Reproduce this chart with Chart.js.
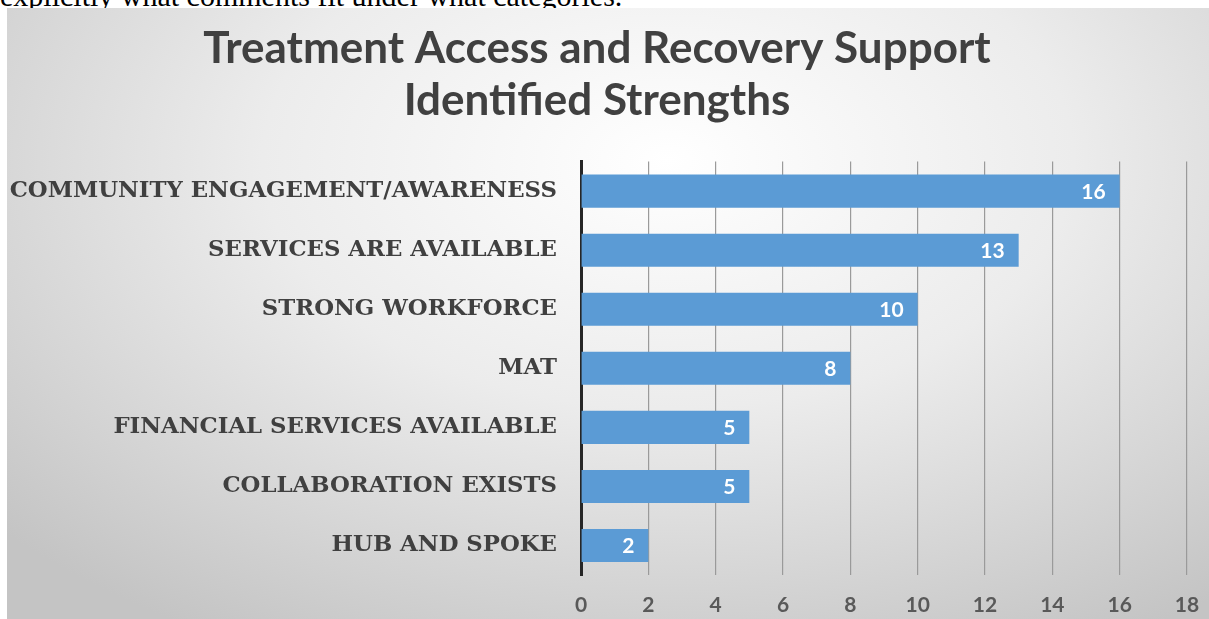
<!DOCTYPE html>
<html>
<head>
<meta charset="utf-8">
<script src="https://cdn.jsdelivr.net/npm/chart.js@4.4.1/dist/chart.umd.min.js"></script>
<style>
  html, body { margin: 0; padding: 0; background: #fff; overflow: hidden; }
  body { width: 1209px; height: 619px; position: relative; }
  #caption {
    position: absolute; left: 0; top: -21px;
    font-family: "Liberation Serif", "Times New Roman", serif;
    font-size: 30px; color: #000; white-space: nowrap;
  }
  #wrap {
    position: absolute; left: 7px; top: 8px; width: 1202px; height: 611px;
    background: radial-gradient(ellipse 75% 90% at 55% 25%, #ffffff 0%, #ececec 45%, #c4c4c4 100%);
  }
</style>
</head>
<body>
<div id="caption">explicitly what comments fit under what categories.</div>
<div id="wrap"><canvas id="chart" width="1202" height="611"></canvas></div>
<script>
// ----------------------
// Données
// ----------------------
const categories = [
  "COMMUNITY ENGAGEMENT/AWARENESS",
  "SERVICES ARE AVAILABLE",
  "STRONG WORKFORCE",
  "MAT",
  "FINANCIAL SERVICES AVAILABLE",
  "COLLABORATION EXISTS",
  "HUB AND SPOKE"
];
const counts = [16, 13, 10, 8, 5, 5, 2];
const titleLines = ["Treatment Access and Recovery Support", "Identified Strengths"];
const xTicks = [0, 2, 4, 6, 8, 10, 12, 14, 16, 18];

// étiquettes blanches en bout de barre
const barLabels = {
  id: "barLabels",
  afterDatasetsDraw(chart) {
    const ctx = chart.ctx;
    const meta = chart.getDatasetMeta(0);
    ctx.save();
    ctx.fillStyle = "#ffffff";
    ctx.font = "bold 21px Lato, 'Open Sans', sans-serif";
    ctx.textAlign = "right";
    ctx.textBaseline = "middle";
    meta.data.forEach((bar, i) => {
      ctx.fillText(String(counts[i]), bar.x - 14, bar.y + 1);
    });
    ctx.restore();
  }
};

const ctx = document.getElementById("chart").getContext("2d");
new Chart(ctx, {
  type: "bar",
  data: {
    labels: categories,
    datasets: [{
      data: counts,
      backgroundColor: "#5b9bd5",
      borderWidth: 0,
      categoryPercentage: 0.56,
      barPercentage: 1
    }]
  },
  plugins: [barLabels],
  options: {
    indexAxis: "y",
    responsive: false,
    animation: false,
    layout: { padding: { left: 0, right: 22, top: 0, bottom: 0 } },
    plugins: {
      legend: { display: false },
      tooltip: { enabled: false },
      title: {
        display: true,
        text: titleLines,
        color: "#404040",
        font: { family: "Lato, 'Open Sans', sans-serif", size: 44, weight: "bold", lineHeight: 1.2 },
        padding: { top: 14, bottom: 34 }
      }
    },
    scales: {
      x: {
        min: 0,
        max: 18,
        afterBuildTicks: s => { s.ticks = xTicks.map(v => ({ value: v })); },
        afterFit: s => { s.height = 44; s.paddingLeft = 0; s.paddingRight = 0; },
        grid: { color: "#9a9a9a", lineWidth: 1.2, drawTicks: false },
        border: { display: false },
        ticks: {
          padding: 18,
          color: "#595959",
          font: { family: "Lato, 'Open Sans', sans-serif", size: 21, weight: "bold" }
        }
      },
      y: {
        afterFit: s => { s.width = 574; },
        grid: { display: false },
        border: { display: true, color: "#262626", width: 3 },
        ticks: {
          padding: 16,
          color: "#404040",
          font: { family: "'DejaVu Serif', 'Liberation Serif', serif", size: 22.8, weight: "bold" }
        }
      }
    }
  }
});
</script>
</body>
</html>
